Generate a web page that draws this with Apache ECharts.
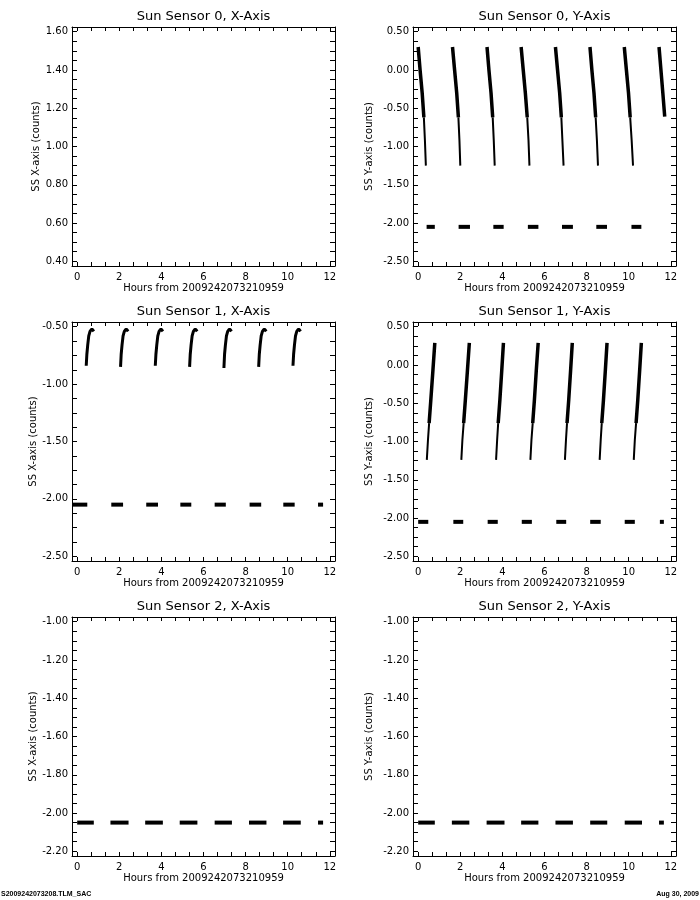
<!DOCTYPE html>
<html><head><meta charset="utf-8">
<script src="https://cdn.jsdelivr.net/npm/echarts@6/dist/echarts.min.js"></script>
<style>html,body{margin:0;padding:0;background:#fff}#c{width:700px;height:900px}</style>
</head><body><div id="c"></div>
<script>
// ---------- data ----------
const titles = ['Sun Sensor 0, X-Axis','Sun Sensor 0, Y-Axis','Sun Sensor 1, X-Axis','Sun Sensor 1, Y-Axis','Sun Sensor 2, X-Axis','Sun Sensor 2, Y-Axis'];
const yNames = ['SS X-axis (counts)','SS Y-axis (counts)','SS X-axis (counts)','SS Y-axis (counts)','SS X-axis (counts)','SS Y-axis (counts)'];
const xName = 'Hours from 2009242073210959';
const xTickLabels = [0,2,4,6,8,10,12];
const yTickLabels0 = [0.4,0.6,0.8,1.0,1.2,1.4,1.6];
const yTickLabels1 = [-2.5,-2.0,-1.5,-1.0,-0.5,0.0,0.5];
const yTickLabels2 = [-2.5,-2.0,-1.5,-1.0,-0.5];
const yTickLabels3 = [-2.5,-2.0,-1.5,-1.0,-0.5,0.0,0.5];
const yTickLabels4 = [-2.2,-2.0,-1.8,-1.6,-1.4,-1.2,-1.0];
const yTickLabels5 = [-2.2,-2.0,-1.8,-1.6,-1.4,-1.2,-1.0];
const footerLeft = 'S2009242073208.TLM_SAC';
const footerRight = 'Aug 30, 2009';

// Sun Sensor 0, Y-axis: falling tracks (dense upper part, sparse lower part)
const s0yDense = [
  [[0.00,0.30],[0.09,0.00],[0.19,-0.30],[0.27,-0.62]],
  [[1.63,0.30],[1.73,0.00],[1.83,-0.30],[1.91,-0.62]],
  [[3.27,0.30],[3.36,0.00],[3.46,-0.30],[3.54,-0.62]],
  [[4.89,0.30],[4.99,0.00],[5.09,-0.30],[5.18,-0.62]],
  [[6.52,0.30],[6.62,0.00],[6.72,-0.30],[6.80,-0.62]],
  [[8.16,0.30],[8.25,0.00],[8.35,-0.30],[8.43,-0.62]],
  [[9.79,0.30],[9.89,0.00],[9.99,-0.30],[10.07,-0.62]],
  [[11.44,0.30],[11.53,0.00],[11.62,-0.30],[11.71,-0.61]]
];
const s0ySparse = [
  [[0.27,-0.62],[0.32,-0.92],[0.365,-1.25]],
  [[1.91,-0.62],[1.96,-0.92],[2.00,-1.25]],
  [[3.54,-0.62],[3.59,-0.92],[3.635,-1.25]],
  [[5.18,-0.62],[5.24,-0.92],[5.285,-1.25]],
  [[6.80,-0.62],[6.85,-0.92],[6.905,-1.25]],
  [[8.43,-0.62],[8.49,-0.92],[8.54,-1.25]],
  [[10.07,-0.62],[10.14,-0.92],[10.205,-1.25]]
];
const s0yFloor = [[0.40,0.79],[1.92,2.46],[3.57,4.06],[5.21,5.71],[6.83,7.35],[8.46,8.97],[10.13,10.60]];

// Sun Sensor 1, X-axis: rising arcs
const s1xArcs = [
  [[0.43,-0.84],[0.46,-0.74],[0.50,-0.66],[0.55,-0.58],[0.61,-0.54],[0.67,-0.525],[0.73,-0.525],[0.79,-0.54]],
  [[2.06,-0.85],[2.09,-0.74],[2.13,-0.66],[2.18,-0.58],[2.24,-0.54],[2.30,-0.525],[2.36,-0.525],[2.42,-0.54]],
  [[3.71,-0.84],[3.74,-0.74],[3.78,-0.66],[3.83,-0.58],[3.89,-0.54],[3.95,-0.525],[4.01,-0.525],[4.07,-0.54]],
  [[5.34,-0.85],[5.37,-0.74],[5.41,-0.66],[5.46,-0.58],[5.52,-0.54],[5.58,-0.525],[5.64,-0.525],[5.70,-0.54]],
  [[6.97,-0.86],[7.00,-0.74],[7.04,-0.66],[7.09,-0.58],[7.15,-0.54],[7.21,-0.525],[7.27,-0.525],[7.33,-0.54]],
  [[8.62,-0.85],[8.65,-0.74],[8.69,-0.66],[8.74,-0.58],[8.80,-0.54],[8.86,-0.525],[8.92,-0.525],[8.98,-0.54]],
  [[10.25,-0.84],[10.28,-0.74],[10.32,-0.66],[10.37,-0.58],[10.43,-0.54],[10.49,-0.525],[10.55,-0.525],[10.61,-0.54]]
];
const s1xFloor = [[-0.22,0.48],[1.62,2.18],[3.28,3.84],[4.90,5.42],[6.53,7.06],[8.19,8.74],[9.79,10.33],[11.44,11.68]];

// Sun Sensor 1, Y-axis: rising tracks (sparse lower part, dense upper part)
const s1ySparse = [
  [[0.41,-1.24],[0.465,-0.98],[0.52,-0.76]],
  [[2.05,-1.24],[2.10,-0.98],[2.16,-0.76]],
  [[3.70,-1.24],[3.75,-0.98],[3.80,-0.76]],
  [[5.33,-1.24],[5.38,-0.98],[5.44,-0.76]],
  [[6.97,-1.24],[7.02,-0.98],[7.07,-0.76]],
  [[8.62,-1.24],[8.67,-0.98],[8.72,-0.76]],
  [[10.24,-1.24],[10.29,-0.98],[10.35,-0.76]]
];
const s1yDense = [
  [[0.52,-0.76],[0.60,-0.46],[0.70,-0.07],[0.79,0.29]],
  [[2.16,-0.76],[2.24,-0.46],[2.34,-0.07],[2.43,0.29]],
  [[3.80,-0.76],[3.88,-0.46],[3.97,-0.07],[4.05,0.29]],
  [[5.44,-0.76],[5.52,-0.46],[5.61,-0.07],[5.70,0.29]],
  [[7.07,-0.76],[7.15,-0.46],[7.24,-0.07],[7.32,0.29]],
  [[8.72,-0.76],[8.80,-0.46],[8.89,-0.07],[8.97,0.29]],
  [[10.35,-0.76],[10.43,-0.46],[10.52,-0.07],[10.60,0.29]]
];
const s1yFloor = [[0.00,0.48],[1.67,2.14],[3.30,3.78],[4.92,5.40],[6.56,7.03],[8.17,8.67],[9.81,10.29],[11.48,11.67]];

// Sun Sensor 2: floor readings only
const s2xFloor = [[0.00,0.79],[1.58,2.44],[3.23,4.07],[4.87,5.71],[6.53,7.35],[8.16,8.99],[9.78,10.62],[11.44,11.68]];
const s2yFloor = [[0.00,0.79],[1.60,2.43],[3.25,4.10],[4.89,5.71],[6.52,7.35],[8.17,8.98],[9.81,10.63],[11.44,11.67]];
const floorValue = -2.05;

// ---------- layout ----------
const colLeft = [72, 413];
const rowTop = [27, 322, 617];
const boxW = 263, boxH = 239;
const FONT = 'DejaVu Sans';

const yLabelSets = [yTickLabels0,yTickLabels1,yTickLabels2,yTickLabels3,yTickLabels4,yTickLabels5];

function subdivide(majors, n){
  const out = [];
  for (let i=0;i<majors.length-1;i++){
    for (let k=0;k<n;k++) out.push(majors[i] + (majors[i+1]-majors[i])*k/n);
  }
  out.push(majors[majors.length-1]);
  return out;
}
function padRange(vals, frac){
  const lo = Math.min(...vals), hi = Math.max(...vals), p=(hi-lo)*frac;
  return [lo-p, hi+p];
}

const grids=[], xAxes=[], yAxes=[], titleOpts=[], series=[];
const xTicks = subdivide(xTickLabels, 3);
const xr = padRange(xTickLabels, 0.0205);

for (let i=0;i<6;i++){
  const col = i%2, row = Math.floor(i/2);
  const left = colLeft[col], top = rowTop[row];
  grids.push({left, top, width: boxW, height: boxH, show:false, containLabel:false});
  const yl = yLabelSets[i];
  const yr = padRange(yl, 0.0205);
  const yTicks = subdivide(yl, 4);
  const line = {show:true, onZero:false, lineStyle:{color:'#000', width:1}};
  xAxes.push({gridIndex:i, type:'value', position:'bottom', min:xr[0], max:xr[1],
    axisLine: line, splitLine:{show:false},
    axisTick:{show:true, inside:true, length:4, customValues:xTicks, lineStyle:{color:'#000'}},
    axisLabel:{show:true, customValues:xTickLabels, margin:6, color:'#000', fontSize:10, fontFamily:FONT, formatter:v=>String(Math.round(v))},
    name:xName, nameLocation:'middle', nameGap:17, nameTextStyle:{color:'#000', fontSize:10, fontFamily:FONT}
  });
  xAxes.push({gridIndex:i, type:'value', position:'top', min:xr[0], max:xr[1],
    axisLine: line, splitLine:{show:false},
    axisTick:{show:true, inside:true, length:4, customValues:xTicks, lineStyle:{color:'#000'}},
    axisLabel:{show:false}
  });
  yAxes.push({gridIndex:i, type:'value', position:'left', min:yr[0], max:yr[1],
    axisLine: line, splitLine:{show:false},
    axisTick:{show:true, inside:true, length:5, customValues:yTicks, lineStyle:{color:'#000'}},
    axisLabel:{show:true, customValues:yl, margin:4, color:'#000', fontSize:10, fontFamily:FONT, formatter:v=>v.toFixed(2)},
    name:yNames[i], nameLocation:'middle', nameRotate:90, nameGap: col===0?31:39,
    nameTextStyle:{color:'#000', fontSize:10, fontFamily:FONT}
  });
  yAxes.push({gridIndex:i, type:'value', position:'right', min:yr[0], max:yr[1],
    axisLine: line, splitLine:{show:false},
    axisTick:{show:true, inside:true, length:5, customValues:yTicks, lineStyle:{color:'#000'}},
    axisLabel:{show:false}
  });
  titleOpts.push({text:titles[i], left: left+boxW/2, top: top-17, textAlign:'center', padding:0,
    textStyle:{color:'#000', fontSize:13, fontWeight:'normal', fontFamily:FONT}});
}

function linesSeries(i, polylines, width){
  return {type:'lines', coordinateSystem:'cartesian2d', xAxisIndex:i*2, yAxisIndex:i*2,
    polyline:true, silent:true, animation:false,
    data: polylines.map(c=>({coords:c})),
    lineStyle:{color:'#000', width, opacity:1, curveness:0, cap:'butt', join:'round'}};
}
function floorSeries(i, spans){
  return linesSeries(i, spans.map(s=>[[s[0],floorValue],[s[1],floorValue]]), 4);
}

series.push(linesSeries(1, s0yDense, 3.5));
series.push(linesSeries(1, s0ySparse, 2));
series.push(floorSeries(1, s0yFloor));
series.push(linesSeries(2, s1xArcs, 3));
series.push(floorSeries(2, s1xFloor));
series.push(linesSeries(3, s1ySparse, 2));
series.push(linesSeries(3, s1yDense, 3.5));
series.push(floorSeries(3, s1yFloor));
series.push(floorSeries(4, s2xFloor));
series.push(floorSeries(5, s2yFloor));

const chart = echarts.init(document.getElementById('c'), null, {renderer:'canvas'});
chart.setOption({
  backgroundColor:'#fff',
  animation:false,
  title: titleOpts,
  grid: grids, xAxis: xAxes, yAxis: yAxes, series,
  graphic:[
    {type:'text', left:1, top:891, style:{text:footerLeft, fill:'#000', font:'bold 7px "Liberation Sans"'}},
    {type:'text', right:1, top:891, style:{text:footerRight, fill:'#000', font:'bold 7px "Liberation Sans"'}}
  ]
});
</script></body></html>
